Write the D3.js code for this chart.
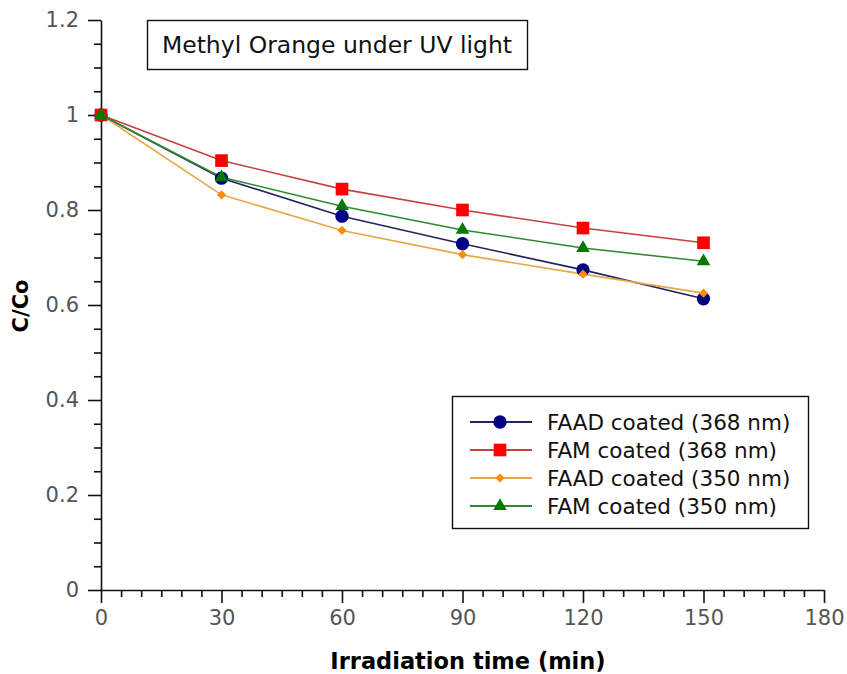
<!DOCTYPE html>
<html>
<head>
<meta charset="utf-8">
<script src="https://cdn.jsdelivr.net/npm/d3@7"></script>
<style>
body { margin: 0; background: #fff; }
text { font-family: "DejaVu Sans", sans-serif; }
</style>
</head>
<body>
<div id="chart"></div>
<script>
var times = [0, 30, 60, 90, 120, 150]
var faad368 = [1, 0.867, 0.787, 0.729, 0.674, 0.613]
var fam368 = [1, 0.904, 0.844, 0.800, 0.762, 0.731]
var faad350 = [1, 0.832, 0.757, 0.706, 0.665, 0.625]
var fam350 = [1, 0.869, 0.808, 0.758, 0.720, 0.692]
var seriesNames = ["FAAD coated (368 nm)", "FAM coated (368 nm)", "FAAD coated (350 nm)", "FAM coated (350 nm)"]
var xTicks = [0, 30, 60, 90, 120, 150, 180]
var yTicks = [0, 0.2, 0.4, 0.6, 0.8, 1, 1.2]
var chartTitle = "Methyl Orange under UV light"

// rotate = 45 turns the square into a diamond
var series = [
    { name: seriesNames[0], values: faad368, line: "#23235e", fill: "#000080", shape: d3.symbolCircle, size: 140, rotate: 0 },
    { name: seriesNames[1], values: fam368, line: "#c84040", fill: "#ff0000", shape: d3.symbolSquare, size: 160, rotate: 0 },
    { name: seriesNames[2], values: faad350, line: "#e4a848", fill: "#ff8c00", shape: d3.symbolSquare, size: 42, rotate: 45 },
    { name: seriesNames[3], values: fam350, line: "#2f8a2f", fill: "#007a00", shape: d3.symbolTriangle, size: 80, rotate: 0 }
]

var svg = d3.select("#chart").append("svg")
    .attr("width", 847)
    .attr("height", 674)

var x = d3.scaleLinear().domain([0, 180]).range([101, 824])
var y = d3.scaleLinear().domain([0, 1.2]).range([590, 20])

// minor ticks
var xMinor = d3.range(0, 181, 5).filter(function (d) { return d % 30 != 0 })
var yMinor = d3.range(0, 1.2001, 0.05).filter(function (d) { return Math.abs(d * 5 - Math.round(d * 5)) > 0.01 })

svg.append("g")
    .attr("transform", "translate(0,590)")
    .call(d3.axisBottom(x).tickValues(xMinor).tickSize(7).tickFormat(""))
    .call(function (g) { g.select(".domain").remove() })

svg.append("g")
    .attr("transform", "translate(101,0)")
    .call(d3.axisLeft(y).tickValues(yMinor).tickSize(7).tickFormat(""))
    .call(function (g) { g.select(".domain").remove() })

var xAxis = svg.append("g")
    .attr("transform", "translate(0,590)")
    .call(d3.axisBottom(x).tickValues(xTicks).tickSize(13).tickSizeOuter(0).tickPadding(7))
var yAxis = svg.append("g")
    .attr("transform", "translate(101,0)")
    .call(d3.axisLeft(y).tickValues(yTicks).tickSize(13).tickSizeOuter(0).tickPadding(9)
        .tickFormat(function (d) { return d3.format("")(+d.toFixed(1)) }))

svg.selectAll(".tick line").attr("stroke", "#111").attr("stroke-width", 1.6)
svg.selectAll(".domain").attr("stroke", "#111").attr("stroke-width", 1.6)
svg.selectAll(".tick text").attr("font-size", 21).attr("fill", "#555")
    .style("font-family", "DejaVu Sans, sans-serif")

// axis titles
svg.append("text")
    .attr("x", 468).attr("y", 669)
    .attr("text-anchor", "middle")
    .attr("font-size", 22.5).attr("font-weight", "bold")
    .text("Irradiation time (min)")

svg.append("text")
    .attr("transform", "translate(28,306) rotate(-90)")
    .attr("text-anchor", "middle")
    .attr("font-size", 21).attr("font-weight", "bold")
    .text("C/Co")

// lines and markers
var line = d3.line()
    .x(function (d, i) { return x(times[i]) })
    .y(function (d) { return y(d) })

series.forEach(function (s) {
    svg.append("path")
        .attr("d", line(s.values))
        .attr("fill", "none")
        .attr("stroke", s.line)
        .attr("stroke-width", 1.6)
})
series.forEach(function (s) {
    svg.selectAll(null)
        .data(s.values)
        .enter()
        .append("path")
        .attr("transform", function (d, i) {
            return "translate(" + x(times[i]) + "," + y(d) + ") rotate(" + s.rotate + ")"
        })
        .attr("d", d3.symbol().type(s.shape).size(s.size))
        .attr("fill", s.fill)
})

// title box
svg.append("rect")
    .attr("x", 147.5).attr("y", 20.5).attr("width", 380).attr("height", 49)
    .attr("fill", "#fff").attr("stroke", "#111").attr("stroke-width", 1.4)
svg.append("text")
    .attr("x", 337).attr("y", 53)
    .attr("text-anchor", "middle")
    .attr("font-size", 23.5).attr("fill", "#111")
    .text(chartTitle)

// legend
var legend = svg.append("g")
legend.append("rect")
    .attr("x", 452.5).attr("y", 396.5).attr("width", 356).attr("height", 132)
    .attr("fill", "#fff").attr("stroke", "#111").attr("stroke-width", 1.4)

var rows = legend.selectAll("g.row")
    .data(series)
    .enter()
    .append("g")
    .attr("transform", function (d, i) { return "translate(0," + (422 + i * 28) + ")" })
rows.append("line")
    .attr("x1", 470).attr("x2", 532)
    .attr("stroke", function (d) { return d.line })
    .attr("stroke-width", 1.8)
rows.append("path")
    .attr("transform", function (d) { return "translate(500,0) rotate(" + d.rotate + ")" })
    .attr("d", function (d) { return d3.symbol().type(d.shape).size(d.size)() })
    .attr("fill", function (d) { return d.fill })
rows.append("text")
    .attr("x", 547).attr("y", 8)
    .attr("font-size", 21.5).attr("fill", "#111")
    .text(function (d) { return d.name })
</script>
</body>
</html>
